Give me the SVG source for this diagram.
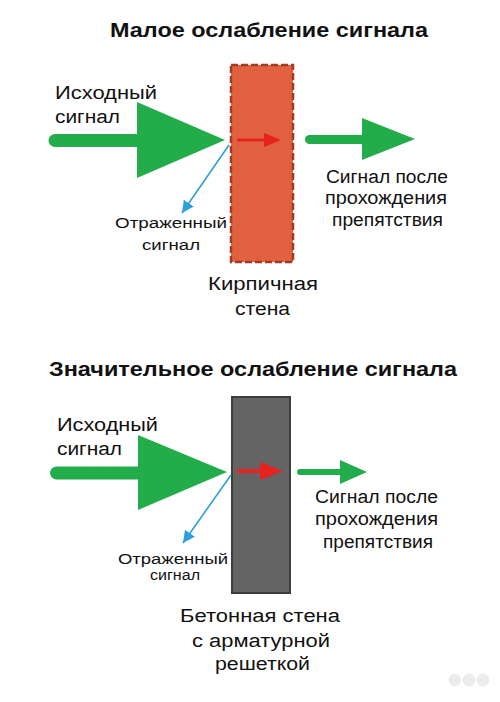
<svg xmlns="http://www.w3.org/2000/svg" width="500" height="702" viewBox="0 0 500 702">
<style>
text{font-family:"Liberation Sans",Arial,sans-serif;fill:#111;}
.title{font-weight:bold;font-size:19.5px;}
.lbl{font-size:18px;}
.sm{font-size:15.5px;}
.green{fill:#22ad4a;}
.gshaft{stroke:#22ad4a;stroke-linecap:round;fill:none;}
.red{fill:#e8221f;}
.rshaft{stroke:#e8221f;fill:none;}
.blue{stroke:#2ba0dc;stroke-width:1.6;fill:none;marker-end:url(#bh);}
</style>
<defs>
<marker id="bh" markerUnits="userSpaceOnUse" markerWidth="14" markerHeight="14" refX="12" refY="6" orient="auto" viewBox="0 0 14 12">
<path d="M0,0 L12,6 L0,12 Z" fill="#2ba0dc"/>
</marker>
</defs>
<rect width="500" height="702" fill="#fff"/>

<g id="title1"><text class="title" x="110" y="37" textLength="318" lengthAdjust="spacingAndGlyphs">Малое ослабление сигнала</text></g>

<g id="brick-wall">
<rect x="231" y="65" width="62" height="197" fill="#e0603f" stroke="#a53a22" stroke-width="2.5" stroke-dasharray="7 3"/>
<text class="lbl" x="208" y="290" textLength="110" lengthAdjust="spacingAndGlyphs">Кирпичная</text>
<text class="lbl" x="235" y="315" textLength="55" lengthAdjust="spacingAndGlyphs">стена</text>
</g>

<g id="source1">
<text class="lbl" x="55" y="99" textLength="102" lengthAdjust="spacingAndGlyphs">Исходный</text>
<text class="lbl" x="55" y="123" textLength="65" lengthAdjust="spacingAndGlyphs">сигнал</text>
</g>

<g id="reflected1">
<text class="sm" x="115" y="228" textLength="112" lengthAdjust="spacingAndGlyphs">Отраженный</text>
<text class="sm" x="142" y="250" textLength="58" lengthAdjust="spacingAndGlyphs">сигнал</text>
</g>

<g id="passed1">
<text class="lbl" x="326" y="183" textLength="122" lengthAdjust="spacingAndGlyphs">Сигнал после</text>
<text class="lbl" x="325" y="204" textLength="122" lengthAdjust="spacingAndGlyphs">прохождения</text>
<text class="lbl" x="332" y="226" textLength="111" lengthAdjust="spacingAndGlyphs">препятствия</text>
</g>

<g id="title2"><text class="title" x="49" y="376" textLength="408" lengthAdjust="spacingAndGlyphs">Значительное ослабление сигнала</text></g>

<g id="concrete-wall">
<rect x="232" y="397" width="58" height="196" fill="#646464" stroke="#3c3c3c" stroke-width="2"/>
<text class="lbl" x="180" y="622" textLength="160" lengthAdjust="spacingAndGlyphs">Бетонная стена</text>
<text class="lbl" x="192" y="647" textLength="138" lengthAdjust="spacingAndGlyphs">с арматурной</text>
<text class="lbl" x="215" y="670" textLength="95" lengthAdjust="spacingAndGlyphs">решеткой</text>
</g>

<g id="source2">
<text class="lbl" x="57" y="431" textLength="101" lengthAdjust="spacingAndGlyphs">Исходный</text>
<text class="lbl" x="57" y="455" textLength="65" lengthAdjust="spacingAndGlyphs">сигнал</text>
</g>

<g id="reflected2">
<text class="sm" x="118" y="564" textLength="110" lengthAdjust="spacingAndGlyphs">Отраженный</text>
<text class="sm" x="150" y="580" textLength="50" lengthAdjust="spacingAndGlyphs">сигнал</text>
</g>

<g id="passed2">
<text class="lbl" x="315" y="503" textLength="123" lengthAdjust="spacingAndGlyphs">Сигнал после</text>
<text class="lbl" x="315" y="525" textLength="123" lengthAdjust="spacingAndGlyphs">прохождения</text>
<text class="lbl" x="323" y="548" textLength="110" lengthAdjust="spacingAndGlyphs">препятствия</text>
</g>

<g id="connectors">
<line class="gshaft" x1="55" y1="140.5" x2="140" y2="140.5" stroke-width="13"/>
<polygon class="green" points="137,102 225,140 137,178"/>
<line class="gshaft" x1="309.5" y1="139.5" x2="365" y2="139.5" stroke-width="9"/>
<polygon class="green" points="362,118 415,139 362,160"/>
<line class="rshaft" x1="237" y1="140" x2="266" y2="140" stroke-width="3"/>
<polygon class="red" points="264,133 281,140 264,147"/>
<line class="blue" x1="229" y1="145" x2="182" y2="213"/>

<line class="gshaft" x1="56.5" y1="473" x2="140" y2="473" stroke-width="13"/>
<polygon class="green" points="138,435 227,472 138,510"/>
<line class="gshaft" x1="300" y1="472" x2="342" y2="472" stroke-width="6"/>
<polygon class="green" points="340,460 367,472 340,484"/>
<line class="rshaft" x1="237" y1="471" x2="262" y2="471" stroke-width="4"/>
<polygon class="red" points="260,462 283,471 260,480"/>
<line class="blue" x1="231" y1="475" x2="183" y2="543"/>
</g>

<g id="watermark" fill="#ececec">
<circle cx="455" cy="680" r="6.5"/>
<circle cx="469" cy="680" r="6.5"/>
<circle cx="483" cy="680" r="6.5"/>
</g>
</svg>
